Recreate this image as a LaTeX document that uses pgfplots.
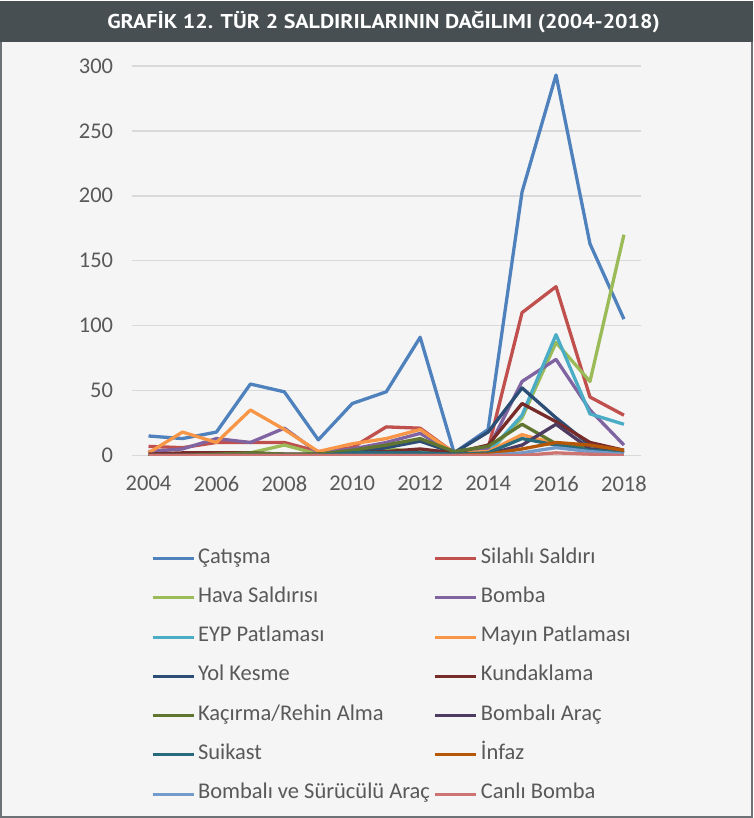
\documentclass[border=0pt]{standalone}
\usepackage{pgfplots}
\pgfplotsset{compat=1.18}
\usepackage{pgfplotstable}
\usepackage{fontspec}
\setmainfont{Carlito}
\newfontfamily\titlefont[FakeStretch=1.1]{PT Sans}
\definecolor{bgc}{HTML}{F5F5F5}
\definecolor{titlec}{HTML}{474F52}
\definecolor{txt}{HTML}{595959}
\definecolor{gridc}{HTML}{D9D9D9}
\definecolor{c1}{HTML}{4F81BD}
\definecolor{c2}{HTML}{C0504D}
\definecolor{c3}{HTML}{9BBB59}
\definecolor{c4}{HTML}{8064A2}
\definecolor{c5}{HTML}{4BACC6}
\definecolor{c6}{HTML}{F79646}
\definecolor{c7}{HTML}{2C4D75}
\definecolor{c8}{HTML}{772C2A}
\definecolor{c9}{HTML}{5F7530}
\definecolor{c10}{HTML}{4D3B62}
\definecolor{c11}{HTML}{276A7C}
\definecolor{c12}{HTML}{B65708}
\definecolor{c13}{HTML}{729ACA}
\definecolor{c14}{HTML}{CD7371}
\pgfplotstableread{
Year Cat Sil Hava Bomba EYP Mayin Yol Kund Kac BArac Suik Infaz BSA Canli
2004 15 7 0 3 0 2 0 1 0 0 0 0 0 0
2005 13 6 1 5 0 18 1 2 0 0 0 0 0 0
2006 18 10 1 13 0 10 1 2 1 0 0 0 0 0
2007 55 10 2 10 0 35 1 2 2 0 0 0 0 0
2008 49 10 8 21 0 20 1 1 1 0 0 0 0 0
2009 12 3 1 2 0 3 1 1 1 0 0 0 0 0
2010 40 6 2 5 1 9 2 2 4 0 2 0 0 0
2011 49 22 5 10 2 13 6 3 8 0 2 0 0 0
2012 91 21 3 17 2 20 11 5 13 0 2 0 0 0
2013 2 2 1 2 1 2 2 2 3 0 1 0 0 0
2014 20 5 2 5 2 3 18 8 7 1 2 1 0 0
2015 203 110 29 57 31 16 52 40 24 8 13 5 2 0
2016 293 130 87 74 93 9 29 26 9 24 8 10 6 2
2017 163 45 57 35 32 8 8 10 5 5 4 8 3 1
2018 105 31 170 8 24 3 2 4 3 2 2 4 1 0
}\data
\begin{document}
\begin{tikzpicture}
\fill[bgc] (0pt,0pt) rectangle (754pt,-818pt);
\draw[titlec!80, line width=2pt] (1pt,0pt) -- (1pt,-817pt) -- (753pt,-817pt) -- (753pt,0pt);
\fill[titlec] (0pt,0pt) rectangle (754pt,-41pt);
\node[text=white, font=\titlefont\bfseries\fontsize{20}{24}\selectfont] at (384pt,-21pt) {GRAFİK 12. TÜR 2 SALDIRILARININ DAĞILIMI (2004-2018)};
\begin{axis}[
  at={(131.7pt,-455pt)}, anchor=south west,
  scale only axis, width=510pt, height=390pt,
  xmin=2003.5, xmax=2018.5, ymin=0, ymax=300,
  xtick={2004,2006,...,2018}, ytick={0,50,...,300},
  xticklabel style={/pgf/number format/1000 sep={}},
  /pgf/number format/assume math mode=true,
  axis line style={draw=none},
  major tick length=0pt,
  ymajorgrids, grid style={gridc, line width=1.6pt},
  tick label style={text=txt, font=\fontsize{22.5}{26}\selectfont},
  yticklabel style={xshift=-15pt},
  xticklabel style={yshift=-17pt},
  every axis plot/.append style={line width=3.3pt, no markers, line join=round},
  legend columns=2,
  legend cell align=left,
  legend image code/.code={\draw[#1, line width=3pt] (0pt,0pt) -- (41pt,0pt);},
  legend style={at={(rel axis cs:0.038,-0.24)}, anchor=north west, draw=none, fill=none,
    inner sep=0pt, text=txt, font=\fontsize{22.5}{26}\selectfont,
    nodes={inner sep=0pt, text height=14pt, text depth=5pt},
    row sep=20.3pt,
    /tikz/every odd column/.append style={column sep=3pt},
    /tikz/every even column/.append style={column sep=4pt}},
]
\addplot[c1] table[x=Year,y=Cat]{\data};
\addlegendentry{Çatışma}
\addplot[c2] table[x=Year,y=Sil]{\data};
\addlegendentry{Silahlı Saldırı}
\addplot[c3] table[x=Year,y=Hava]{\data};
\addlegendentry{Hava Saldırısı}
\addplot[c4] table[x=Year,y=Bomba]{\data};
\addlegendentry{Bomba}
\addplot[c5] table[x=Year,y=EYP]{\data};
\addlegendentry{EYP Patlaması}
\addplot[c6] table[x=Year,y=Mayin]{\data};
\addlegendentry{Mayın Patlaması}
\addplot[c7] table[x=Year,y=Yol]{\data};
\addlegendentry{Yol Kesme}
\addplot[c8] table[x=Year,y=Kund]{\data};
\addlegendentry{Kundaklama}
\addplot[c9] table[x=Year,y=Kac]{\data};
\addlegendentry{Kaçırma/Rehin Alma}
\addplot[c10] table[x=Year,y=BArac]{\data};
\addlegendentry{Bombalı Araç}
\addplot[c11] table[x=Year,y=Suik]{\data};
\addlegendentry{Suikast}
\addplot[c12] table[x=Year,y=Infaz]{\data};
\addlegendentry{İnfaz}
\addplot[c13] table[x=Year,y=BSA]{\data};
\addlegendentry{Bombalı ve Sürücülü Araç}
\addplot[c14] table[x=Year,y=Canli]{\data};
\addlegendentry{Canlı Bomba}
\end{axis}
\end{tikzpicture}
\end{document}
